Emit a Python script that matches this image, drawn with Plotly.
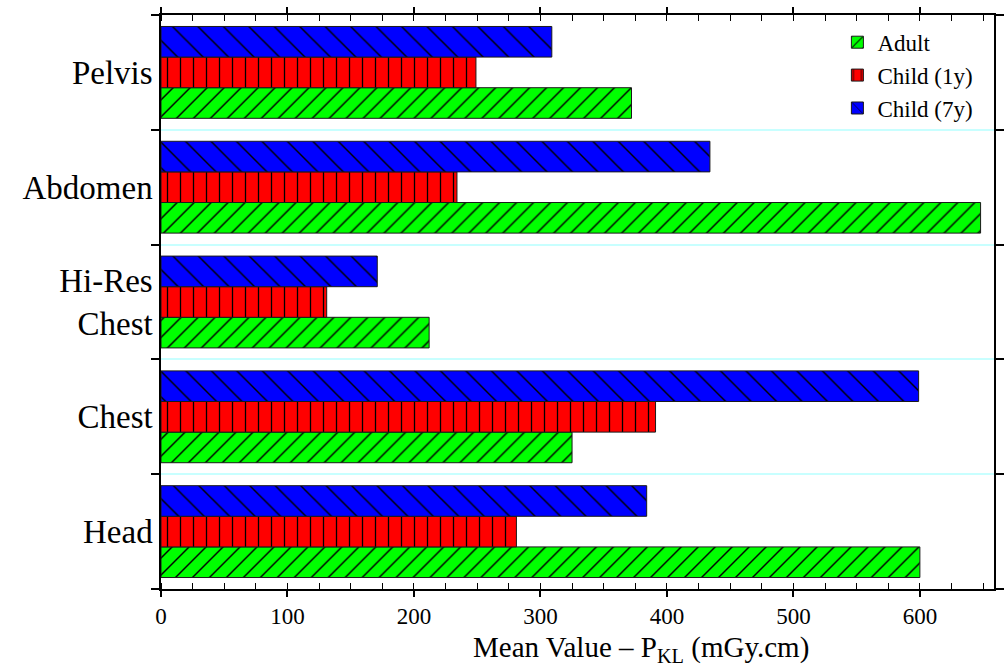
import plotly.graph_objects as go

categories = ["Head", "Chest", "Hi-Res<br>Chest", "Abdomen", "Pelvis"]
adult = [600, 325, 212, 648, 372]
child_1y = [281, 391, 131, 234, 249]
child_7y = [384, 599, 171, 434, 309]
x_ticks = [0, 100, 200, 300, 400, 500, 600]

FONT = "Liberation Serif"

fig = go.Figure()
fig.add_trace(go.Bar(
    y=categories, x=adult, orientation="h", name="Adult",
    marker=dict(color="#00ff00", line=dict(color="#1a1a1a", width=1),
                pattern=dict(shape="/", fgcolor="#000000", fgopacity=1, size=12, solidity=0.12)),
))
fig.add_trace(go.Bar(
    y=categories, x=child_1y, orientation="h", name="Child (1y)",
    marker=dict(color="#ff0000", line=dict(color="#1a1a1a", width=1),
                pattern=dict(shape="|", fgcolor="#000000", fgopacity=1, size=13, solidity=0.1)),
))
fig.add_trace(go.Bar(
    y=categories, x=child_7y, orientation="h", name="Child (7y)",
    marker=dict(color="#0000ff", line=dict(color="#1a1a1a", width=1),
                pattern=dict(shape="\\", fgcolor="#000000", fgopacity=1, size=18, solidity=0.08)),
))

fig.update_layout(
    width=1006, height=666,
    margin=dict(l=161, r=2, t=15, b=77),
    barmode="group", bargap=0.2, bargroupgap=0,
    paper_bgcolor="white", plot_bgcolor="white",
    font=dict(family=FONT, color="black"),
    showlegend=True,
    legend=dict(x=0.812, y=0.99, xanchor="left", yanchor="top",
                bgcolor="rgba(0,0,0,0)", font=dict(family=FONT, size=23),
                tracegroupgap=0),
    xaxis=dict(range=[0, 658.6], tickvals=x_ticks, ticks="outside", ticklen=6,
               tickwidth=1.5, tickcolor="black",
               minor=dict(dtick=25, ticks="inside", ticklen=6, tickwidth=1, tickcolor="black"),
               showline=True, linecolor="black", linewidth=1.5, mirror="ticks",
               showgrid=False, zeroline=False,
               tickfont=dict(family=FONT, size=23)),
    yaxis=dict(type="category", categoryorder="array", categoryarray=categories,
               tickson="boundaries", ticks="outside", ticklen=8, tickwidth=1.5,
               tickcolor="black",
               showline=True, linecolor="black", linewidth=1.5, mirror="ticks",
               showgrid=True, gridcolor="#c8ffff", gridwidth=1.5,
               tickfont=dict(family=FONT, size=33)),
)

fig.add_annotation(
    text="Mean Value \u2013 P<sub>KL</sub> (mGy.cm)",
    xref="paper", yref="paper", x=0.576, y=-0.104,
    xanchor="center", yanchor="middle", showarrow=False,
    font=dict(family=FONT, size=29, color="black"),
)

fig.write_html("out.html")
